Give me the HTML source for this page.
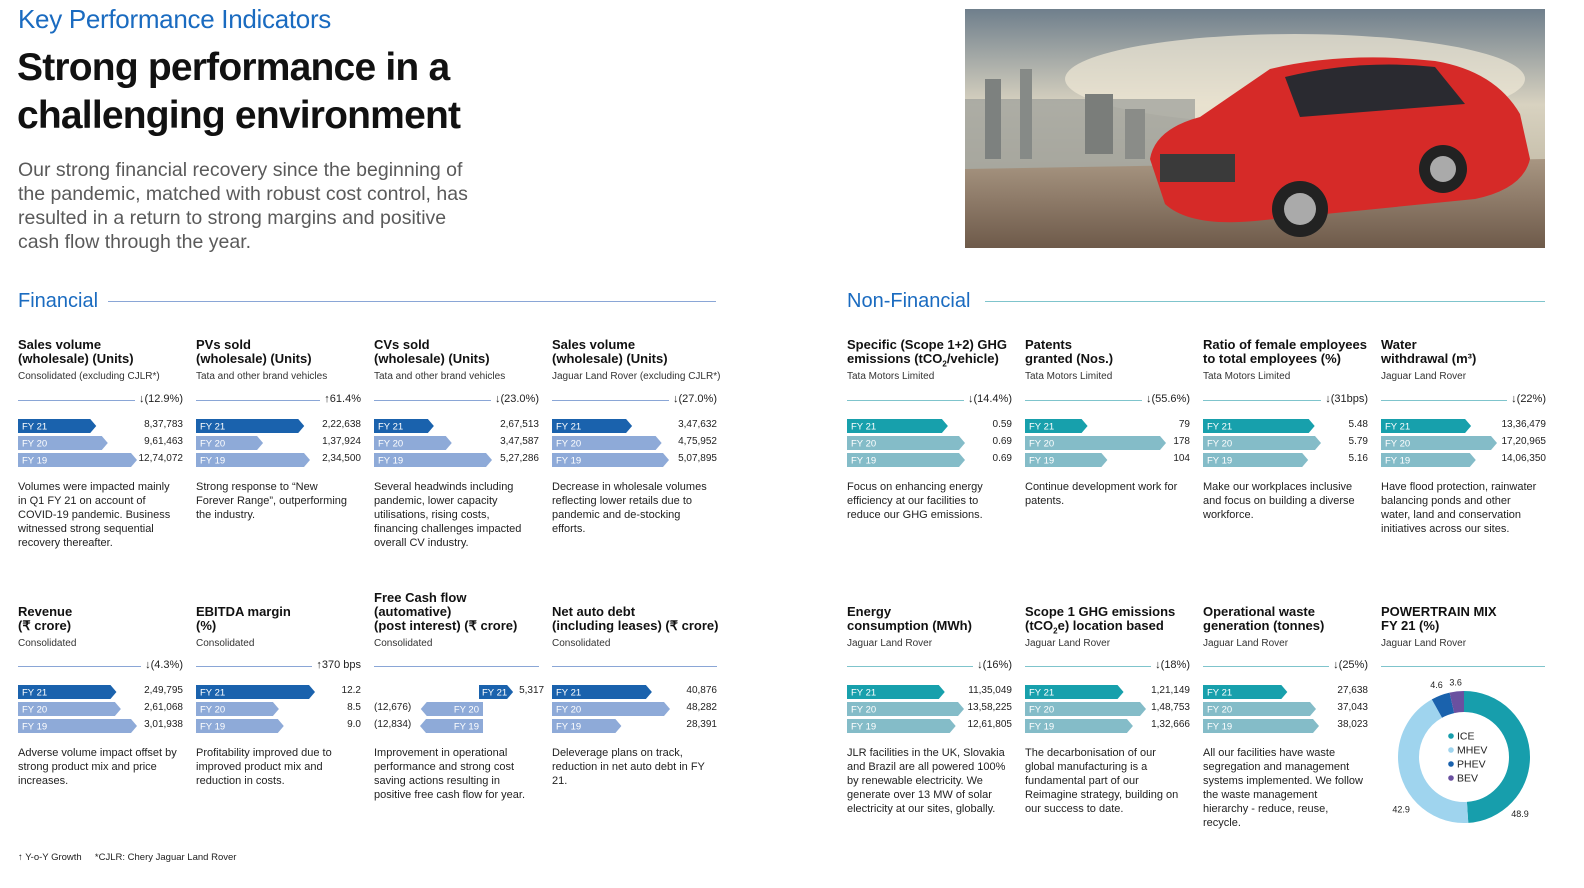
<!DOCTYPE html>
<html><head><meta charset="utf-8">
<style>
*{margin:0;padding:0;box-sizing:border-box}
html{width:1584px;height:888px;overflow:hidden}
body{width:1584px;height:888px;background:#fff;position:relative;overflow:hidden;font-family:"Liberation Sans",sans-serif;color:#1a1a1a}
.abs{position:absolute}
.kpi{left:18px;top:4px;font-size:26px;color:#1a6bc0;letter-spacing:-0.3px}
.h1{left:17px;top:44px;font-size:39px;font-weight:bold;line-height:48px;letter-spacing:-0.8px;color:#111;white-space:nowrap}
.intro{left:18px;top:158px;font-size:19.5px;line-height:24px;color:#5a5a5a;width:462px}
.sec{font-size:20px;color:#1a6bc0}
.ttl{font-size:13px;font-weight:bold;line-height:14px;width:165px;color:#111;white-space:nowrap}
.sub{font-size:10px;color:#333;white-space:nowrap}
.desc{font-size:11px;line-height:14px;color:#222;width:162px}
.chg{font-size:11px;color:#222;background:#fff;padding-left:4px;white-space:nowrap}
.val{font-size:10px;color:#222;text-align:right;white-space:nowrap}
.photo{left:965px;top:9px;width:580px;height:239px;overflow:hidden}
</style></head><body>
<div class="abs kpi">Key Performance Indicators</div>
<div class="abs h1">Strong performance in a<br>challenging environment</div>
<div class="abs intro">Our strong financial recovery since the beginning of the pandemic, matched with robust cost control, has resulted in a return to strong margins and positive cash flow through the year.</div>

<svg class="abs photo" viewBox="0 0 580 239" width="580" height="239">
<defs><linearGradient id="sky" x1="0" y1="0" x2="0" y2="1"><stop offset="0" stop-color="#6f7f8c"/><stop offset="0.4" stop-color="#d8d2c0"/><stop offset="0.7" stop-color="#c4bca8"/></linearGradient>
<linearGradient id="flr" x1="0" y1="0" x2="0" y2="1"><stop offset="0" stop-color="#a89682"/><stop offset="1" stop-color="#6e5a4a"/></linearGradient></defs>
<rect width="580" height="239" fill="url(#sky)"/>
<ellipse cx="330" cy="70" rx="230" ry="45" fill="#efe8d6" opacity="0.7"/>
<rect x="0" y="90" width="230" height="70" fill="#9a9c98" opacity="0.7"/>
<rect x="20" y="70" width="16" height="80" fill="#7d817f"/><rect x="55" y="60" width="12" height="90" fill="#868a87"/><rect x="120" y="85" width="28" height="60" fill="#7a7d7a"/><rect x="160" y="100" width="20" height="50" fill="#8a8c88"/>
<polygon points="0,160 580,150 580,239 0,239" fill="url(#flr)"/>
<path d="M185 150 Q190 120 235 108 L305 60 Q380 42 470 52 Q530 62 555 105 L565 150 Q558 180 510 190 L290 212 Q225 218 200 195 Z" fill="#d62a28"/>
<path d="M320 68 Q395 50 470 58 L500 95 L335 108 Z" fill="#2a2a30"/>
<rect x="195" y="145" width="75" height="28" fill="#3a3a3a"/>
<circle cx="335" cy="200" r="28" fill="#222"/><circle cx="335" cy="200" r="16" fill="#aaa"/>
<circle cx="478" cy="160" r="24" fill="#222"/><circle cx="478" cy="160" r="13" fill="#aaa"/>
</svg>

<div class="abs sec" style="left:18px;top:290px">Financial</div>
<div class="abs" style="left:108px;top:301px;width:608px;height:1px;background:#8aa6d6"></div>
<div class="abs sec" style="left:847px;top:290px">Non-Financial</div>
<div class="abs" style="left:985px;top:301px;width:560px;height:1px;background:#7fc4cc"></div>

<svg id="bars" class="abs" style="left:0;top:0" width="1584" height="888"></svg>
<div id="cards"></div>

<div class="abs" style="left:18px;top:852px;font-size:9.5px;color:#222">↑ Y-o-Y Growth &nbsp;&nbsp;&nbsp; *CJLR: Chery Jaguar Land Rover</div>

<script>
const fyLabels = ["FY 21","FY 20","FY 19"];
const salesVals = [837783, 961463, 1274072];
const salesText = ["8,37,783","9,61,463","12,74,072"];
const pvVals = [222638, 137924, 234500];
const pvText = ["2,22,638","1,37,924","2,34,500"];
const cvVals = [267513, 347587, 527286];
const cvText = ["2,67,513","3,47,587","5,27,286"];
const jlrVals = [347632, 475952, 507895];
const jlrText = ["3,47,632","4,75,952","5,07,895"];
const revVals = [249795, 261068, 301938];
const revText = ["2,49,795","2,61,068","3,01,938"];
const ebitdaVals = [12.2, 8.5, 9.0];
const ebitdaText = ["12.2","8.5","9.0"];
const fcfVals = [5317, -12676, -12834];
const fcfText = ["5,317","(12,676)","(12,834)"];
const debtVals = [40876, 48282, 28391];
const debtText = ["40,876","48,282","28,391"];
const ghgVals = [0.59, 0.69, 0.69];
const ghgText = ["0.59","0.69","0.69"];
const patentVals = [79, 178, 104];
const patentText = ["79","178","104"];
const femaleVals = [5.48, 5.79, 5.16];
const femaleText = ["5.48","5.79","5.16"];
const waterVals = [1336479, 1720965, 1406350];
const waterText = ["13,36,479","17,20,965","14,06,350"];
const energyVals = [1135049, 1358225, 1261805];
const energyText = ["11,35,049","13,58,225","12,61,805"];
const scopeVals = [121149, 148753, 132666];
const scopeText = ["1,21,149","1,48,753","1,32,666"];
const wasteVals = [27638, 37043, 38023];
const wasteText = ["27,638","37,043","38,023"];
const mixLabels = ["ICE","MHEV","PHEV","BEV"];
const mixVals = [48.9, 42.9, 4.6, 3.6];

const FIN = ["#1a62ad","#8eaad8"], NF = ["#17a0ac","#84bcc8"];
const cards = [
 {x:18,row:0,t:["Sales volume","(wholesale) (Units)"],s:"Consolidated (excluding CJLR*)",c:"↓(12.9%)",v:salesVals,tx:salesText,mx:119,col:FIN,d:"Volumes were impacted mainly in Q1 FY 21 on account of COVID-19 pandemic. Business witnessed strong sequential recovery thereafter."},
 {x:196,row:0,t:["PVs sold","(wholesale) (Units)"],s:"Tata and other brand vehicles",c:"↑61.4%",v:pvVals,tx:pvText,mx:114,col:FIN,d:"Strong response to “New Forever Range”, outperforming the industry."},
 {x:374,row:0,t:["CVs sold","(wholesale) (Units)"],s:"Tata and other brand vehicles",c:"↓(23.0%)",v:cvVals,tx:cvText,mx:118,col:FIN,d:"Several headwinds including pandemic, lower capacity utilisations, rising costs, financing challenges impacted overall CV industry."},
 {x:552,row:0,t:["Sales volume","(wholesale) (Units)"],s:"Jaguar Land Rover (excluding CJLR*)",c:"↓(27.0%)",v:jlrVals,tx:jlrText,mx:117,col:FIN,d:"Decrease in wholesale volumes reflecting lower retails due to pandemic and de-stocking efforts."},
 {x:18,row:1,t:["Revenue","(₹ crore)"],s:"Consolidated",c:"↓(4.3%)",v:revVals,tx:revText,mx:119,col:FIN,d:"Adverse volume impact offset by strong product mix and price increases."},
 {x:196,row:1,t:["EBITDA margin","(%)"],s:"Consolidated",c:"↑370 bps",v:ebitdaVals,tx:ebitdaText,mx:119,col:FIN,d:"Profitability improved due to improved product mix and reduction in costs."},
 {x:374,row:1,t:["Free Cash flow","(automative)","(post interest) (₹ crore)"],s:"Consolidated",c:"",v:fcfVals,tx:fcfText,mx:0,col:FIN,fcf:true,d:"Improvement in operational performance and strong cost saving actions resulting in positive free cash flow for year."},
 {x:552,row:1,t:["Net auto debt","(including leases) (₹ crore)"],s:"Consolidated",c:"",v:debtVals,tx:debtText,mx:118,col:FIN,d:"Deleverage plans on track, reduction in net auto debt in FY 21."},
 {x:847,row:0,t:["Specific (Scope 1+2) GHG","emissions (tCO<sub style='font-size:8px'>2</sub>/vehicle)"],s:"Tata Motors Limited",c:"↓(14.4%)",v:ghgVals,tx:ghgText,mx:118,col:NF,d:"Focus on enhancing energy efficiency at our facilities to reduce our GHG emissions."},
 {x:1025,row:0,t:["Patents","granted (Nos.)"],s:"Tata Motors Limited",c:"↓(55.6%)",v:patentVals,tx:patentText,mx:141,col:NF,d:"Continue development work for patents."},
 {x:1203,row:0,t:["Ratio of female employees","to total employees (%)"],s:"Tata Motors Limited",c:"↓(31bps)",v:femaleVals,tx:femaleText,mx:118,col:NF,d:"Make our workplaces inclusive and focus on building a diverse workforce."},
 {x:1381,row:0,t:["Water","withdrawal (m³)"],s:"Jaguar Land Rover",c:"↓(22%)",v:waterVals,tx:waterText,mx:116,col:NF,d:"Have flood protection, rainwater balancing ponds and other water, land and conservation initiatives across our sites."},
 {x:847,row:1,t:["Energy","consumption (MWh)"],s:"Jaguar Land Rover",c:"↓(16%)",v:energyVals,tx:energyText,mx:117,col:NF,d:"JLR facilities in the UK, Slovakia and Brazil are all powered 100% by renewable electricity. We generate over 13 MW of solar electricity at our sites, globally."},
 {x:1025,row:1,t:["Scope 1 GHG emissions","(tCO<sub style='font-size:8px'>2</sub>e) location based"],s:"Jaguar Land Rover",c:"↓(18%)",v:scopeVals,tx:scopeText,mx:121,col:NF,d:"The decarbonisation of our global manufacturing is a fundamental part of our Reimagine strategy, building on our success to date."},
 {x:1203,row:1,t:["Operational waste","generation (tonnes)"],s:"Jaguar Land Rover",c:"↓(25%)",v:wasteVals,tx:wasteText,mx:116,col:NF,d:"All our facilities have waste segregation and management systems implemented. We follow the waste management hierarchy - reduce, reuse, recycle."}
];
const W = 165, rows = [{tb:366,sub:371,rule:400,bar:419,desc:480},{tb:633,sub:638,rule:666,bar:685,desc:746}];
const svg = document.getElementById('bars'), host = document.getElementById('cards');
const NS = "http://www.w3.org/2000/svg";
function div(cls, style, html, name){
  const d=document.createElement('div');d.className='abs '+cls;d.style.cssText=style;d.innerHTML=html;
  
  
  host.appendChild(d);return d;
}
function barPath(x0,x1,y,h,left){
  const a=6;
  if(left) return `M${x1},${y} L${x0+a},${y} L${x0},${y+h/2} L${x0+a},${y+h} L${x1},${y+h} Z`;
  return `M${x0},${y} L${x1-a},${y} L${x1},${y+h/2} L${x1-a},${y+h} L${x0},${y+h} Z`;
}
function svgEl(tag, attrs){const e=document.createElementNS(NS,tag);for(const k in attrs)e.setAttribute(k,attrs[k]);svg.appendChild(e);return e;}
cards.forEach((c)=>{
  const r=rows[c.row], nl=c.t.length;
  div('ttl',`left:${c.x}px;top:${r.tb-nl*14}px`,c.t.join('<br>'),'card-title');
  div('sub',`left:${c.x}px;top:${r.sub}px`,c.s,'card-subtitle');
  div('',`left:${c.x}px;top:${r.rule}px;width:${W}px;height:1px;background:${c.col===FIN?'#8aa6d6':'#7fc4cc'}`,'','card-rule');
  if(c.c) div('chg',`right:${1584-c.x-W}px;top:${r.rule-7}px`,c.c,'yoy-change');
  const mx = Math.max(...c.v.map(Math.abs));
  c.v.forEach((v,i)=>{
    const y=r.bar+i*17, h=14, fill=i===0?c.col[0]:c.col[1];
    let p, lx, ty=y+h/2+3.5, anchor='start';
    if(c.fcf){
      const ax=c.x+109, sc=63/mx;
      if(v>=0){p=barPath(ax-4,ax+v*sc+4,y,h,false);lx=ax-1;}
      else{p=barPath(ax+v*sc,ax,y,h,true);lx=ax-4;anchor='end';}
      div('val',`left:${v>=0?ax+v*sc+10:c.x}px;top:${y}px;`+(v>=0?'text-align:left':'text-align:left'),c.tx[i],'bar-value');
    } else {
      p=barPath(c.x,c.x+v/mx*c.mx,y,h,false);lx=c.x+4;
      div('val',`right:${1584-c.x-W}px;top:${y}px`,c.tx[i],'bar-value');
    }
    const b=svgEl('path',{d:p,fill:fill});
    
    
    const t=svgEl('text',{x:lx,y:ty,fill:'#fff','font-size':'9.5','text-anchor':anchor,'font-family':'Liberation Sans, sans-serif'});
    t.textContent=fyLabels[i];
    
    
  });
  div('desc',`left:${c.x}px;top:${r.desc}px`,c.d,'card-description');
});
// Powertrain donut card
div('ttl','left:1381px;top:605px','POWERTRAIN MIX<br>FY 21 (%)','powertrain-title');
div('sub','left:1381px;top:638px','Jaguar Land Rover','powertrain-subtitle');
div('','left:1381px;top:666px;width:164px;height:1px;background:#7fc4cc','','powertrain-rule');
const mixColors=["#179eac","#9fd4ee","#1a62ad","#6a50a0"];
const labelFrac=[0.77,0.35,0.5,0.5], labelRad=[80,82,76,74];
const cx=1464, cy=757, rad=55.5, circ=2*Math.PI*rad, total=mixVals.reduce((a,b)=>a+b,0);
let acc=0;
mixVals.forEach((v,i)=>{
  const len=v/total*circ;
  const s=svgEl('circle',{cx:cx,cy:cy,r:rad,fill:'none',stroke:mixColors[i],'stroke-width':21,
    'stroke-dasharray':`${len} ${circ-len}`,'stroke-dashoffset':-acc,transform:`rotate(-90 ${cx} ${cy})`});
  
  
  const ang=(acc+len*labelFrac[i])/circ*2*Math.PI, lr=labelRad[i];
  const lxp=cx+Math.sin(ang)*lr, lyp=cy-Math.cos(ang)*lr;
  const t=svgEl('text',{x:lxp,y:lyp+(i<2?3:2),'font-size':'9','text-anchor':'middle',fill:'#222','font-family':'Liberation Sans, sans-serif'});
  t.textContent=String(v);
  
  
  acc+=len;
});
mixLabels.forEach((l,i)=>{
  const y=736+i*14;
  const d=svgEl('circle',{cx:1451,cy:y,r:2.8,fill:mixColors[i]});
  
  
  const t=svgEl('text',{x:1457,y:y+3.5,'font-size':'10.5',fill:'#222','font-family':'Liberation Sans, sans-serif'});
  t.textContent=l;
  
  
});
</script>
</body></html>
